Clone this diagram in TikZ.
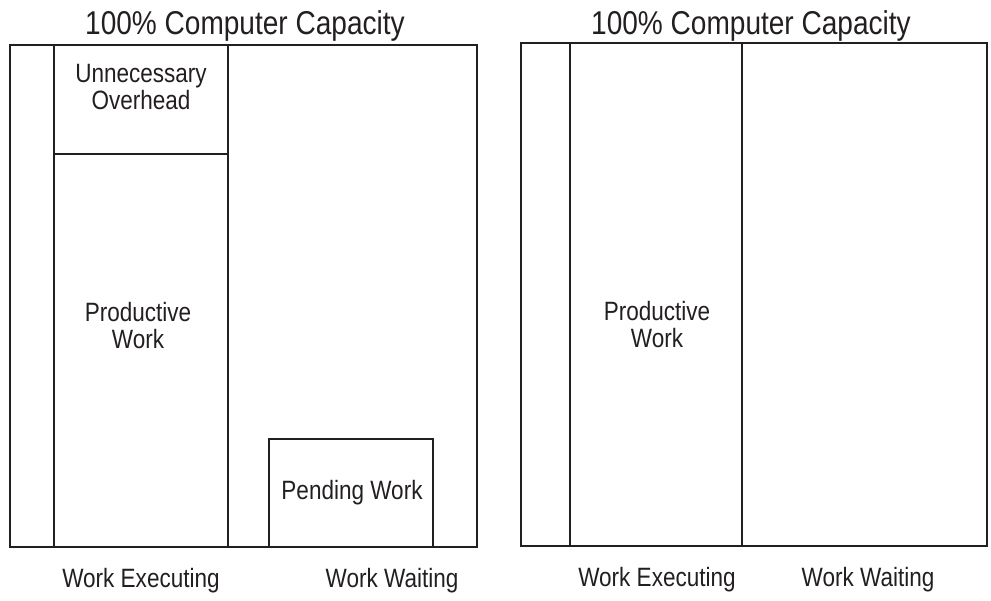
\documentclass[tikz,border=0pt]{standalone}
\usepackage{fontspec}
\setmainfont{Liberation Sans}[FakeStretch=0.85]
\definecolor{ink}{HTML}{231F20}
\begin{document}
\begin{tikzpicture}[x=1pt,y=-1pt,
  box/.style={draw=ink,line width=2.2pt},
  title/.style={text=ink,anchor=base,inner sep=0pt,font=\fontsize{33}{38}\selectfont},
  lbl/.style={text=ink,anchor=base,inner sep=0pt,font=\fontsize{26.5}{27}\selectfont},
  mlbl/.style={text=ink,align=center,inner sep=0pt,font=\fontsize{26.5}{27}\selectfont}]
\useasboundingbox (0,0) rectangle (991,601);
% left diagram
\draw[box] (10,45) rectangle (477,547);
\draw[box] (54,45) -- (54,547);
\draw[box] (228,45) -- (228,547);
\draw[box] (54,154) -- (228,154);
\draw[box] (269,547) -- (269,439) -- (433,439) -- (433,547);
\node[title] (t1) at (245,35) {100\% Computer Capacity};
\node[mlbl] (uo) at (141,87) {Unnecessary\\Overhead};
\node[mlbl] (pw1) at (138,326) {Productive\\Work};
\node[lbl] (pend) at (352,500) {Pending Work};
\node[lbl] (we1) at (141,587) {Work Executing};
\node[lbl] (ww1) at (392,587) {Work Waiting};
% right diagram
\draw[box] (521,43) rectangle (987,546);
\draw[box] (570,43) -- (570,546);
\draw[box] (742,43) -- (742,546);
\node[title] (t2) at (751,35) {100\% Computer Capacity};
\node[mlbl] (pw2) at (657,325) {Productive\\Work};
\node[lbl] (we2) at (657,586) {Work Executing};
\node[lbl] (ww2) at (868,586) {Work Waiting};
\end{tikzpicture}
\end{document}
